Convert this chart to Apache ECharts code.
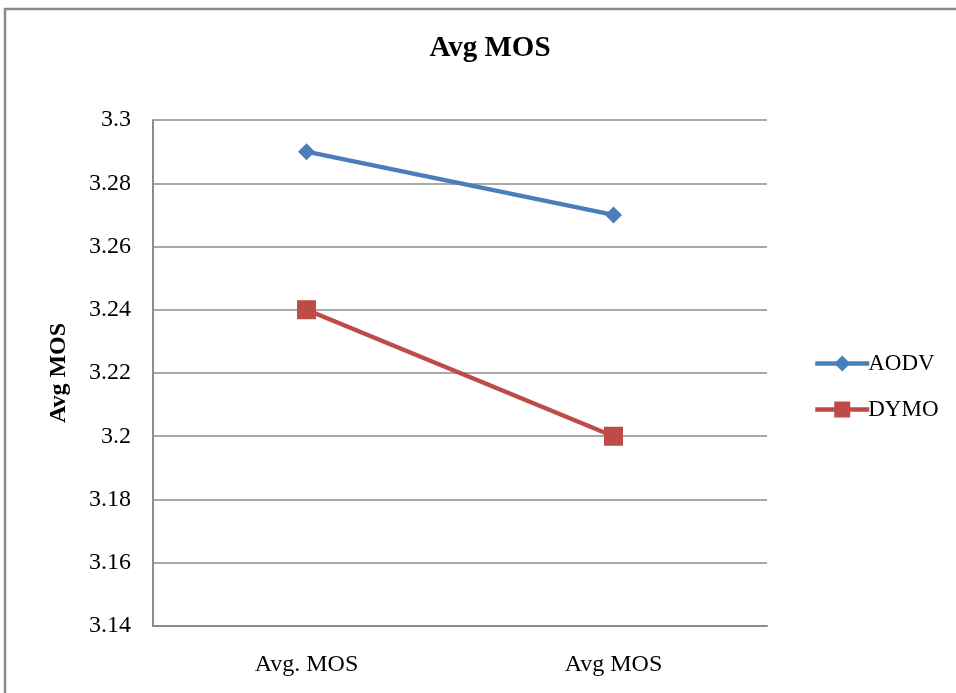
<!DOCTYPE html>
<html>
<head>
<meta charset="utf-8">
<script src="https://cdn.jsdelivr.net/npm/echarts@6/dist/echarts.min.js"></script>
<style>
  html, body { margin: 0; padding: 0; background: #fff; }
  #chart { width: 956px; height: 693px; }
</style>
</head>
<body>
<div id="chart"></div>
<script>
// Chart data
const categories = ['Avg. MOS', 'Avg MOS'];
const aodvValues = [3.29, 3.27];
const dymoValues = [3.24, 3.20];
const yMin = 3.14;
const yMax = 3.30;
const yStep = 0.02;

const serif = '"Liberation Serif", "Times New Roman", serif';
const blue = '#4a7ebb';
const red = '#be4b48';
const chart = echarts.init(document.getElementById('chart'));

chart.setOption({
  backgroundColor: '#ffffff',
  animation: false,
  graphic: [{
    type: 'rect',
    shape: { x: 5, y: 9, width: 960, height: 700 },
    style: { fill: 'none', stroke: '#8a8a8a', lineWidth: 2.5 },
    silent: true
  }],
  title: {
    text: 'Avg MOS',
    left: 485,
    textAlign: 'center',
    top: 29,
    textStyle: { fontFamily: serif, fontSize: 29, fontWeight: 'bold', color: '#000' }
  },
  legend: {
    orient: 'vertical',
    left: 808,
    top: 347,
    itemGap: 23,
    itemWidth: 54,
    itemHeight: 20,
    textStyle: { fontFamily: serif, fontSize: 23, color: '#000', padding: [0, 0, 0, -6] },
    data: [
      { name: 'AODV', lineStyle: { width: 4.5, color: blue }, itemStyle: { color: blue } },
      { name: 'DYMO', lineStyle: { width: 4.5, color: red }, itemStyle: { color: red } }
    ]
  },
  grid: { left: 153, right: 189, top: 120, bottom: 67 },
  xAxis: {
    type: 'category',
    data: categories,
    boundaryGap: true,
    axisLine: { lineStyle: { color: '#8c8c8c', width: 2 } },
    axisTick: { show: false },
    axisLabel: { fontFamily: serif, fontSize: 24, color: '#000', margin: 27 }
  },
  yAxis: {
    type: 'value',
    min: yMin,
    max: yMax,
    interval: yStep,
    name: 'Avg MOS',
    nameLocation: 'middle',
    nameGap: 82,
    nameRotate: 90,
    nameTextStyle: { fontFamily: serif, fontSize: 24, fontWeight: 'bold', color: '#000' },
    axisLine: { show: true, lineStyle: { color: '#8c8c8c', width: 2 } },
    axisTick: { show: false },
    splitLine: { lineStyle: { color: '#8c8c8c', width: 1.5 } },
    axisLabel: {
      fontFamily: serif, fontSize: 24, color: '#000', margin: 22,
      formatter: v => String(parseFloat(v.toFixed(2)))
    }
  },
  series: [
    {
      name: 'AODV',
      type: 'line',
      data: aodvValues,
      color: blue,
      lineStyle: { width: 4.5, color: blue },
      symbol: 'diamond',
      symbolSize: 17,
      itemStyle: { color: blue }
    },
    {
      name: 'DYMO',
      type: 'line',
      data: dymoValues,
      color: red,
      lineStyle: { width: 4.5, color: red },
      symbol: 'rect',
      symbolSize: 19,
      itemStyle: { color: red }
    }
  ]
});
</script>
</body>
</html>
